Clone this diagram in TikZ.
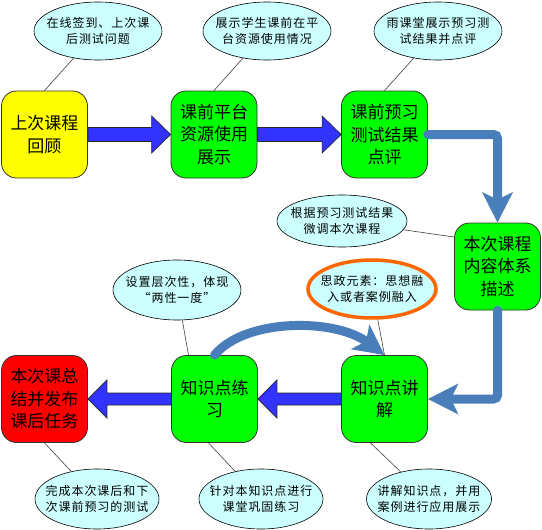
\documentclass[tikz,border=0pt]{standalone}
\usepackage{fontspec}
\newfontfamily\cjk{Noto Sans CJK SC}
\newfontfamily\cjksmall[LetterSpace=8]{Noto Sans CJK SC}
\usetikzlibrary{shapes.geometric,arrows.meta,calc}
\definecolor{boxyellow}{RGB}{255,255,0}
\definecolor{boxgreen}{RGB}{0,255,0}
\definecolor{boxred}{RGB}{255,0,0}
\definecolor{bubblecol}{RGB}{204,255,255}
\definecolor{flowblue}{RGB}{74,126,187}
\definecolor{blockblue}{RGB}{51,51,255}
\definecolor{ringorange}{RGB}{255,102,0}
\tikzset{
 stepbox/.style={draw=black!80, line width=0.8pt, rounded corners=15pt, minimum width=86pt, minimum height=87pt, inner sep=0pt, align=center, font=\cjk\fontsize{17}{22.5}\selectfont},
 bubble/.style={ellipse, draw=black, line width=0.6pt, fill=bubblecol, minimum width=128pt, minimum height=58pt, inner xsep=-8pt, inner ysep=0pt, align=center, font=\cjksmall\fontsize{12}{16.5}\selectfont},
 callout/.style={draw=black!75, line width=0.6pt},
 barrow/.style={draw=black!85, line width=0.7pt, fill=blockblue, line join=miter},
 flow/.style={draw=flowblue, line width=9pt, line cap=round, rounded corners=4pt, -{Stealth[length=30pt,width=30pt,inset=7pt]}},
}
\begin{document}
\begin{tikzpicture}[x=1pt,y=-1pt]
\useasboundingbox (0,0) rectangle (542,530);
% boxes
\node[stepbox, fill=boxyellow] (b1) at (44.5,134.5) {上次课程\\回顾};
\node[stepbox, fill=boxgreen] (b2) at (214,134.5) {课前平台\\资源使用\\展示};
\node[stepbox, fill=boxgreen] (b3) at (384.5,134.5) {课前预习\\测试结果\\点评};
\node[stepbox, fill=boxgreen] (b4) at (497.5,266.5) {本次课程\\内容体系\\描述};
\node[stepbox, fill=boxgreen] (b5) at (384.5,399) {知识点讲\\解};
\node[stepbox, fill=boxgreen] (b6) at (214.5,399) {知识点练\\习};
\node[stepbox, fill=boxred] (b7) at (44.5,399) {本次课总\\结并发布\\课后任务};
% bubbles
\node[bubble] (e1) at (98,31) {在线签到、上次课\\后测试问题};
\node[bubble] (e2) at (267,31) {展示学生课前在平\\台资源使用情况};
\node[bubble] (e3) at (438,31) {雨课堂展示预习测\\试结果并点评};
\node[bubble, minimum width=130pt, minimum height=52pt] (e4) at (342,221) {根据预习测试结果\\微调本次课程};
\node[bubble, draw=ringorange, line width=3.5pt] (e5) at (372,289) {思政元素：思想融\\入或者案例融入};
\node[bubble, minimum height=60pt] (e6) at (177,290) {设置层次性，体现\\“两性一度”};
\node[bubble, minimum width=124pt, minimum height=60pt] (e7) at (97,499) {完成本次课后和下\\次课前预习的测试};
\node[bubble, minimum width=124pt, minimum height=60pt] (e8) at (261,499) {针对本知识点进行\\课堂巩固练习};
\node[bubble, minimum width=125pt, minimum height=60pt] (e9) at (429,499) {讲解知识点，并用\\案例进行应用展示};
% callout lines
\draw[callout] (e1) -- (b1.north);
\draw[callout] (e2) -- (b2.north);
\draw[callout] (e3) -- (b3.north);
\draw[callout] (e4) -- ([yshift=29.5pt]b4.west);
\draw[callout] (e5) -- (b5.north);
\draw[callout] (e6) -- ([xshift=-26pt]b6.north);
\draw[callout] (e7) -- (b7.south);
\draw[callout] (e8) -- ([xshift=-6pt]b6.south);
\draw[callout] (e9) -- ([xshift=-14pt]b5.south);
% block arrows
\draw[barrow] ([yshift=7pt]b1.east) -- ([xshift=-19pt,yshift=7pt]b2.west) -- ([xshift=-19pt,yshift=18.5pt]b2.west) -- (b2.west) -- ([xshift=-19pt,yshift=-18.5pt]b2.west) -- ([xshift=-19pt,yshift=-7pt]b2.west) -- ([yshift=-7pt]b1.east) -- cycle;
\draw[barrow] ([yshift=7pt]b2.east) -- ([xshift=-19pt,yshift=7pt]b3.west) -- ([xshift=-19pt,yshift=18.5pt]b3.west) -- (b3.west) -- ([xshift=-19pt,yshift=-18.5pt]b3.west) -- ([xshift=-19pt,yshift=-7pt]b3.west) -- ([yshift=-7pt]b2.east) -- cycle;
\draw[barrow] ([yshift=6pt]b5.west) -- ([xshift=19pt,yshift=6pt]b6.east) -- ([xshift=19pt,yshift=19pt]b6.east) -- (b6.east) -- ([xshift=19pt,yshift=-19pt]b6.east) -- ([xshift=19pt,yshift=-6pt]b6.east) -- ([yshift=-6pt]b5.west) -- cycle;
\draw[barrow] ([yshift=6pt]b6.west) -- ([xshift=19pt,yshift=6pt]b7.east) -- ([xshift=19pt,yshift=19pt]b7.east) -- (b7.east) -- ([xshift=19pt,yshift=-19pt]b7.east) -- ([xshift=19pt,yshift=-6pt]b7.east) -- ([yshift=-6pt]b6.west) -- cycle;
% flow connectors
\draw[flow] (b3.east) -- (b3.east -| b4.north) -- (b4.north);
\draw[flow] (b4.south) -- (b4.south |- b5.east) -- (b5.east);
\draw[flow] (b6.north) .. controls (245,318) and (335,318) .. (b5.north);
\end{tikzpicture}
\end{document}
